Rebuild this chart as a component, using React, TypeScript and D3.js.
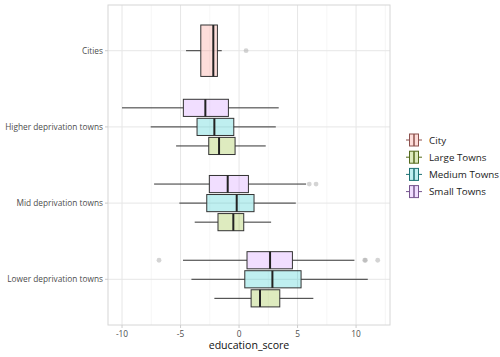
import React from "react";
import * as d3 from "d3";

const categories = ["Cities", "Higher deprivation towns", "Mid deprivation towns", "Lower deprivation towns"];
const groups = ["City", "Large Towns", "Medium Towns", "Small Towns"];
const groupColors = ["#F8766D", "#7CAE00", "#00BFC4", "#C77CFF"];
const xTicks = [-10, -5, 0, 5, 10];

// box statistics: [category, group, lowerWhisker, q1, median, q3, upperWhisker]
const boxStats: [string, string, number, number, number, number, number][] = [
  ["Cities", "City", -4.53, -3.27, -2.2, -1.85, -1.48],
  ["Higher deprivation towns", "Large Towns", -5.38, -2.59, -1.71, -0.34, 2.28],
  ["Higher deprivation towns", "Medium Towns", -7.55, -3.59, -2.11, -0.45, 3.14],
  ["Higher deprivation towns", "Small Towns", -10.0, -4.76, -2.88, -0.91, 3.39],
  ["Mid deprivation towns", "Large Towns", -3.79, -1.8, -0.49, 0.4, 2.74],
  ["Mid deprivation towns", "Medium Towns", -5.1, -2.76, -0.2, 1.28, 4.85],
  ["Mid deprivation towns", "Small Towns", -7.26, -2.54, -0.97, 0.8, 5.73],
  ["Lower deprivation towns", "Large Towns", -2.11, 1.03, 1.79, 3.48, 6.35],
  ["Lower deprivation towns", "Medium Towns", -4.07, 0.49, 2.85, 5.3, 11.0],
  ["Lower deprivation towns", "Small Towns", -4.79, 0.68, 2.65, 4.56, 9.86],
];

const outliers: [string, string, number][] = [
  ["Cities", "City", 0.6],
  ["Mid deprivation towns", "Small Towns", 6.0],
  ["Mid deprivation towns", "Small Towns", 6.58],
  ["Lower deprivation towns", "Small Towns", -6.84],
  ["Lower deprivation towns", "Small Towns", 10.74],
  ["Lower deprivation towns", "Small Towns", 10.8],
  ["Lower deprivation towns", "Small Towns", 11.85],
];

const W = 500, H = 357;
const P = { left: 108, right: 390, top: 5, bottom: 325 };
const FONT = "'Open Sans', 'Noto Sans', sans-serif";

export default function App() {
  const x = d3.scaleLinear().domain([-11.2, 12.9]).range([P.left, P.right]);
  const y = d3.scalePoint<string>().domain(categories).range([P.top, P.bottom]).padding(0.6);
  const step = y.step();
  const minor = d3.range(-12.5, 13, 5).filter((v) => x(v) > P.left && x(v) < P.right);

  const groupsIn = (cat: string) =>
    groups.filter((g) => boxStats.some((b) => b[0] === cat && b[1] === g));
  const pos = (cat: string, g: string) => {
    const gs = groupsIn(cat);
    const n = gs.length;
    const i = gs.indexOf(g);
    const slot = 0.75 / n;
    const center = y(cat)! - ((i + 0.5) / n - 0.5) * 0.75 * step;
    return { center, h: slot * 0.9 * step };
  };
  const colorOf = (g: string) => groupColors[groups.indexOf(g)];

  return (
    <svg width={W} height={H} style={{ position: "absolute", left: 0, top: 0, background: "#fff" }}>
      <rect x={0} y={0} width={W} height={H} fill="#fff" />
      {/* grid */}
      {minor.map((v) => (
        <line key={"mn" + v} x1={x(v)} x2={x(v)} y1={P.top} y2={P.bottom} stroke="#f0f0f0" strokeWidth={0.6} />
      ))}
      {xTicks.map((v) => (
        <line key={"mj" + v} x1={x(v)} x2={x(v)} y1={P.top} y2={P.bottom} stroke="#e6e6e6" strokeWidth={1} />
      ))}
      {categories.map((c) => (
        <line key={"hg" + c} x1={P.left} x2={P.right} y1={y(c)} y2={y(c)} stroke="#e6e6e6" strokeWidth={1} />
      ))}
      {/* boxes */}
      {boxStats.map(([cat, g, lo, q1, med, q3, hi]) => {
        const { center, h } = pos(cat, g);
        const c = d3.color(colorOf(g))!.copy({ opacity: 0.25 });
        return (
          <g key={cat + g}>
            <line x1={x(lo)} x2={x(q1)} y1={center} y2={center} stroke="#333" strokeWidth={1} />
            <line x1={x(q3)} x2={x(hi)} y1={center} y2={center} stroke="#333" strokeWidth={1} />
            <rect x={x(q1)} y={center - h / 2} width={x(q3) - x(q1)} height={h} fill={c.toString()} stroke="#333" strokeWidth={1} />
            <line x1={x(med)} x2={x(med)} y1={center - h / 2} y2={center + h / 2} stroke="#222" strokeWidth={2} />
          </g>
        );
      })}
      {outliers.map(([cat, g, v], i) => {
        const { center } = pos(cat, g);
        return <circle key={"o" + i} cx={x(v)} cy={center} r={2.4} fill="#aaaaaa" fillOpacity={0.5} />;
      })}
      {/* panel border */}
      <rect x={P.left} y={P.top} width={P.right - P.left} height={P.bottom - P.top} fill="none" stroke="#d6d6d6" strokeWidth={1} />
      {/* axes */}
      {xTicks.map((v) => (
        <g key={"xt" + v}>
          <line x1={x(v)} x2={x(v)} y1={P.bottom} y2={P.bottom + 3} stroke="#cccccc" />
          <text x={x(v)} y={P.bottom + 11.5} textAnchor="middle" fontSize={8.3} fill="#4d4d4d" fontFamily={FONT}>
            {v}
          </text>
        </g>
      ))}
      {categories.map((c) => (
        <g key={"yt" + c}>
          <line x1={P.left - 3} x2={P.left} y1={y(c)} y2={y(c)} stroke="#cccccc" />
          <text x={P.left - 5} y={y(c)! + 3} textAnchor="end" fontSize={8.3} fill="#4d4d4d" fontFamily={FONT}>
            {c}
          </text>
        </g>
      ))}
      <text x={(P.left + P.right) / 2} y={348.5} textAnchor="middle" fontSize={10.6} fill="#111" fontFamily={FONT}>
        education_score
      </text>
      {/* legend */}
      {groups.map((g, i) => {
        const cy = 140 + i * 17.2;
        const col = groupColors[i];
        const stroke = d3.interpolateRgb("#333333", col)(0.45);
        const fill = d3.color(col)!.copy({ opacity: 0.25 }).toString();
        return (
          <g key={"lg" + g}>
            <line x1={406} x2={422} y1={cy} y2={cy} stroke={stroke} strokeWidth={1} />
            <rect x={409.5} y={cy - 6} width={9} height={12} fill="#fff" />
            <rect x={409.5} y={cy - 6} width={9} height={12} fill={fill} stroke={stroke} strokeWidth={1} />
            <line x1={414} x2={414} y1={cy - 6} y2={cy + 6} stroke={stroke} strokeWidth={1.5} />
            <text x={429} y={cy + 3.5} fontSize={9.8} fill="#222" fontFamily={FONT}>
              {g}
            </text>
          </g>
        );
      })}
    </svg>
  );
}
